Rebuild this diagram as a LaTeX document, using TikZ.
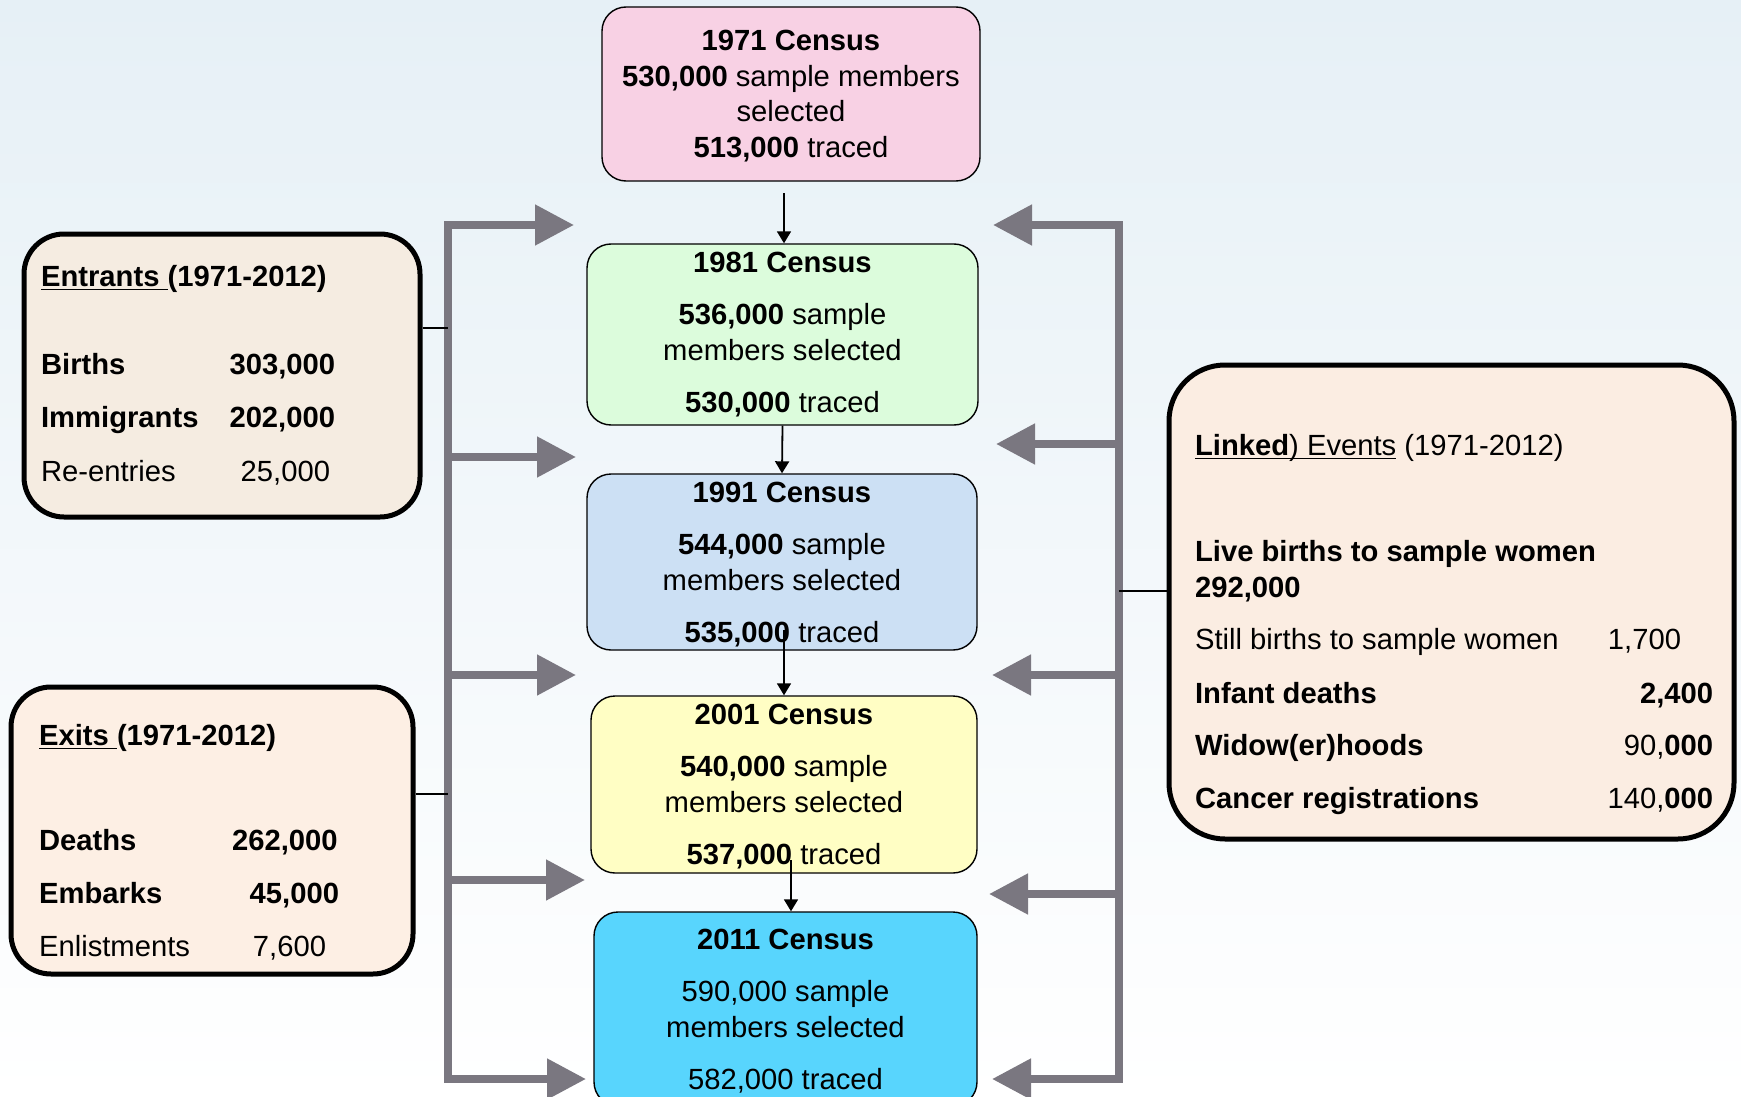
\documentclass[tikz,border=0pt]{standalone}
\usepackage{fontspec}
\setmainfont{Liberation Sans}
\usetikzlibrary{positioning,arrows.meta}

\definecolor{bg-top}{HTML}{E6F0F6}
\definecolor{bus-gray}{HTML}{7A7780}
\definecolor{fill-1971}{HTML}{F8D1E4}
\definecolor{fill-1981}{HTML}{DCFCDC}
\definecolor{fill-1991}{HTML}{CCE0F4}
\definecolor{fill-2001}{HTML}{FFFEC4}
\definecolor{fill-2011}{HTML}{58D5FD}
\definecolor{fill-entrants}{HTML}{F5ECE1}
\definecolor{fill-exits}{HTML}{FDEFE4}
\definecolor{fill-linked}{HTML}{FBEDE2}

\begin{document}
\begin{tikzpicture}[
  x=0.5pt, y=-0.5pt,
  every node/.style={font=\fontsize{14.6}{17.8}\selectfont},
  census/.style={draw,rounded corners=12pt,line width=0.7pt,align=center,inner sep=0pt},
  sidebox/.style={draw,rounded corners=20pt,line width=2.5pt,inner sep=0pt},
  table-text/.style={inner sep=0pt},
  bus/.style={draw=bus-gray,line width=4pt,line join=miter},
  bus-tip/.style={-{Triangle[length=19.5pt,width=19.5pt]}},
  step-arrow/.style={draw,line width=0.9pt,-{Triangle[length=6pt,width=7pt]}},
  link-line/.style={draw,line width=0.6pt},
  ]

  \useasboundingbox (0,0) rectangle (1741,1097);
  \clip (0,0) rectangle (1741,1097);
  \shade [top color=bg-top,bottom color=white] (0,0) rectangle (1741,1097);

  % census boxes (a smaller text depth drops the text a little)
  \node [census,text depth=-2.2pt,fill=fill-1971,minimum width=189pt,minimum height=87pt] (census1971-box) at (791,94)
  {\textbf{1971 Census}\\ \textbf{530,000} sample members\\ selected\\ \textbf{513,000} traced};
  \node [census,fill=fill-1981,minimum width=195.5pt,minimum height=90.5pt] (census1981-box) at (782.5,334.5)
  {\textbf{1981 Census}\\[8.3pt] \textbf{536,000} sample\\ members selected\\[8.3pt] \textbf{530,000} traced};
  \node [census,text depth=-2.8pt,fill=fill-1991,minimum width=195pt,minimum height=88pt] (census1991-box) at (782,562)
  {\textbf{1991 Census}\\[8.3pt] \textbf{544,000} sample\\ members selected\\[8.3pt] \textbf{535,000} traced};
  \node [census,text depth=-1.8pt,fill=fill-2001,minimum width=193pt,minimum height=88.5pt] (census2001-box) at (784,784.5)
  {\textbf{2001 Census}\\[8.3pt] \textbf{540,000} sample\\ members selected\\[8.3pt] \textbf{537,000} traced};
  \node [census,text depth=0pt,fill=fill-2011,minimum width=191.5pt,minimum height=97pt] (census2011-box) at (785.5,1009)
  {\textbf{2011 Census}\\[8.3pt] 590,000 sample\\ members selected\\[8.3pt] 582,000 traced};

  % side boxes
  \node [sidebox,fill=fill-entrants,minimum width=198pt,minimum height=141.5pt] (entrants-box) at (222,375.5) {};
  \node [table-text,below right=14.85pt and 9.6pt of entrants-box.north west] (entrants-text) {%
    \begin{tabular*}{147pt}{@{}l@{\extracolsep{\fill}}r@{}}
      \multicolumn{2}{@{}l@{}}{\textbf{\underline{Entrants\ }(1971-2012)}}\\[26.2pt]
      \textbf{Births} & \textbf{303,000}\\[8.7pt]
      \textbf{Immigrants} & \textbf{202,000}\\[9.2pt]
      Re-entries & 25,000\hspace*{2.5pt}
    \end{tabular*}};

  \node [sidebox,fill=fill-exits,minimum width=201pt,minimum height=143.5pt] (exits-box) at (212,830.5) {};
  \node [table-text,below right=17.85pt and 15.1pt of exits-box.north west] (exits-text) {%
    \begin{tabular*}{150pt}{@{}l@{\extracolsep{\fill}}r@{}}
      \multicolumn{2}{@{}l@{}}{\textbf{\underline{Exits\ }(1971-2012)}}\\[34.7pt]
      \textbf{Deaths} & \textbf{262,000}\hspace*{0.7pt}\\[8.7pt]
      \textbf{Embarks} & \textbf{45,000}\\[8.7pt]
      Enlistments & 7,600\hspace*{6.5pt}
    \end{tabular*}};

  \node [sidebox,rounded corners=28pt,fill=fill-linked,minimum width=282.5pt,minimum height=237pt] (linked-box) at (1451.5,602) {};
  \node [table-text,below right=33.85pt and 14.1pt of linked-box.north west] (linked-text) {%
    \begin{tabular*}{259pt}{@{}l@{\extracolsep{\fill}}r@{}}
      \multicolumn{2}{@{}l@{}}{\underline{\smash{\textbf{Linked}) Events}} (1971-2012)}\\[35.2pt]
      \multicolumn{2}{@{}l@{}}{\textbf{Live births to sample women}}\\
      \multicolumn{2}{@{}l@{}}{\textbf{292,000}}\\[8.2pt]
      Still births to sample women & 1,700\hspace*{16pt}\\[9.2pt]
      \textbf{Infant deaths} & \textbf{2,400}\\[8.2pt]
      \textbf{Widow(er)hoods} & 90,\textbf{000}\\[8.7pt]
      \textbf{Cancer registrations} & 140,\textbf{000}
    \end{tabular*}};

  % census to census
  \coordinate (step1-start) at (784,193);
  \coordinate (step3-start) at (784,630);
  \coordinate (step4-start) at (791,860);
  \draw [step-arrow] (step1-start) -- (step1-start |- census1981-box.north);
  \draw [step-arrow] (census1981-box.south) -- (census1991-box.north);
  \draw [step-arrow] (step3-start) -- (step3-start |- census2001-box.north);
  \draw [step-arrow] (step4-start) -- (step4-start |- census2011-box.north);

  % left bus
  \coordinate (left-bus-top) at (448,225);
  \coordinate (left-bus-bottom) at (448,1079);
  \coordinate (left-tip-1) at (574,225);
  \coordinate (left-tip-2) at (576,457);
  \coordinate (left-tip-3) at (576,675);
  \coordinate (left-tip-4) at (585,880);
  \coordinate (left-tip-5) at (586,1079);
  \draw [bus,{Triangle[length=19.5pt,width=19.5pt]}-{Triangle[length=19.5pt,width=19.5pt]}]
    (left-tip-1) -- (left-bus-top) -- (left-bus-bottom) -- (left-tip-5);
  \foreach \n in {2,3,4}
    \draw [bus,bus-tip] (left-bus-top |- left-tip-\n) -- (left-tip-\n);

  % right bus
  \coordinate (right-bus-top) at (1119,225);
  \coordinate (right-bus-bottom) at (1119,1079);
  \coordinate (right-tip-1) at (993,225);
  \coordinate (right-tip-2) at (996,444);
  \coordinate (right-tip-3) at (992,675);
  \coordinate (right-tip-4) at (989,894);
  \coordinate (right-tip-5) at (992,1079);
  \draw [bus,{Triangle[length=19.5pt,width=19.5pt]}-{Triangle[length=19.5pt,width=19.5pt]}]
    (right-tip-1) -- (right-bus-top) -- (right-bus-bottom) -- (right-tip-5);
  \foreach \n in {2,3,4}
    \draw [bus,bus-tip] (right-bus-top |- right-tip-\n) -- (right-tip-\n);

  % boxes to buses
  \coordinate (entrants-joint) at (448,328);
  \coordinate (exits-joint) at (448,794);
  \coordinate (linked-joint) at (1119,591);
  \draw [link-line] (entrants-box.east |- entrants-joint) -- (entrants-joint);
  \draw [link-line] (exits-box.east |- exits-joint) -- (exits-joint);
  \draw [link-line] (linked-joint) -- (linked-joint -| linked-box.west);

\end{tikzpicture}
\end{document}
